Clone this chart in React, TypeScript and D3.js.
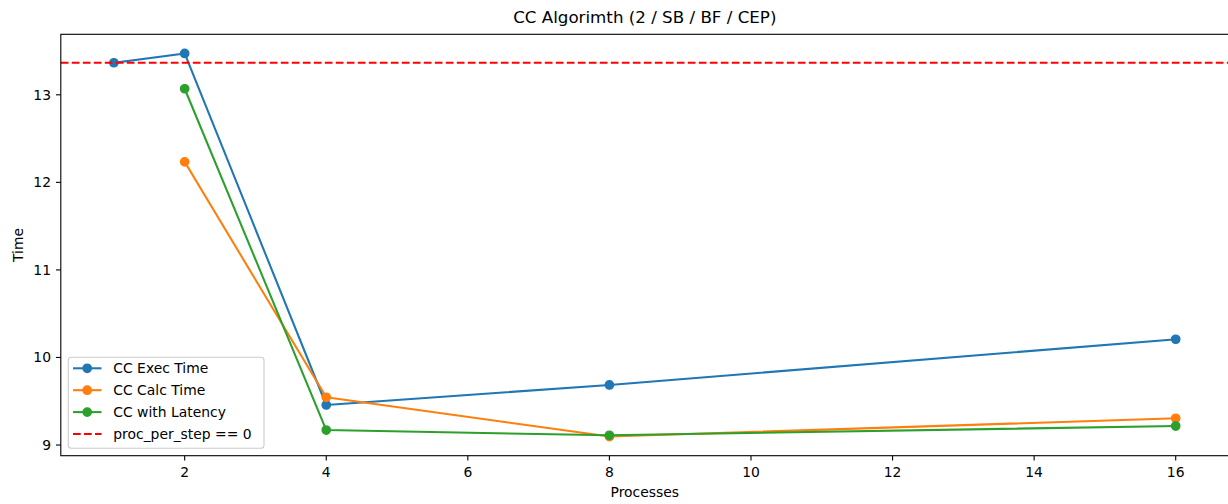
import React from "react";
import * as d3 from "d3";

const processes = [1, 2, 4, 8, 16];
const execTime = [13.366, 13.472, 9.457, 9.686, 10.208];
const calcProcesses = [2, 4, 8, 16];
const calcTime = [12.234, 9.545, 9.097, 9.305];
const latencyTime = [13.069, 9.171, 9.111, 9.217];
const baseline = 13.366;
const xTicks = [2, 4, 6, 8, 10, 12, 14, 16];
const yTicks = [9, 10, 11, 12, 13];

const W = 1228;
const H = 504;
const L = 60.8, R = 1228.8, T = 34.3, B = 455.7;
const FONT = "DejaVu Sans, sans-serif";

export default function App() {
  const x = d3.scaleLinear().domain([0.25, 16.75]).range([L, R]);
  const y = d3.scaleLinear().domain([8.878, 13.691]).range([B, T]);

  const series = [
    { name: "CC Exec Time", color: "#1f77b4", xs: processes, ys: execTime },
    { name: "CC Calc Time", color: "#ff7f0e", xs: calcProcesses, ys: calcTime },
    { name: "CC with Latency", color: "#2ca02c", xs: calcProcesses, ys: latencyTime },
  ];

  const line = d3
    .line<[number, number]>()
    .x((d) => x(d[0]))
    .y((d) => y(d[1]));

  const legendItems = [
    ...series.map((s) => ({ name: s.name, color: s.color, dashed: false })),
    { name: "proc_per_step == 0", color: "red", dashed: true },
  ];

  return (
    <svg
      width={W}
      height={H}
      style={{ position: "absolute", left: 0, top: 0, background: "#fff" }}
      fontFamily={FONT}
    >
      <rect x={0} y={0} width={W} height={H} fill="#fff" />
      <defs>
        <clipPath id="plot">
          <rect x={L} y={T} width={R - L} height={B - T} />
        </clipPath>
      </defs>

      {/* title */}
      <text x={(L + R) / 2} y={23} textAnchor="middle" fontSize={16.7} fill="#000">
        CC Algorimth (2 / SB / BF / CEP)
      </text>

      {/* series */}
      <g clipPath="url(#plot)">
        {series.map((s) => (
          <g key={s.name}>
            <path
              d={line(s.xs.map((v, i) => [v, s.ys[i]] as [number, number])) || ""}
              fill="none"
              stroke={s.color}
              strokeWidth={2.08}
              strokeLinejoin="round"
              strokeLinecap="square"
            />
            {s.xs.map((v, i) => (
              <circle
                key={i}
                cx={x(v)}
                cy={y(s.ys[i])}
                r={4.17}
                fill={s.color}
                stroke={s.color}
                strokeWidth={1.39}
              />
            ))}
          </g>
        ))}
        <line
          x1={L}
          x2={R}
          y1={y(baseline)}
          y2={y(baseline)}
          stroke="red"
          strokeWidth={2.08}
          strokeDasharray="7.7,3.3"
        />
      </g>

      {/* spines */}
      <rect x={L} y={T} width={R - L} height={B - T} fill="none" stroke="#000" strokeWidth={1.1} />

      {/* x ticks */}
      {xTicks.map((t) => (
        <g key={t}>
          <line x1={x(t)} x2={x(t)} y1={B} y2={B + 4.86} stroke="#000" strokeWidth={1.1} />
          <text x={x(t)} y={476.5} textAnchor="middle" fontSize={13.9} fill="#000">
            {t}
          </text>
        </g>
      ))}
      <text x={(L + R) / 2} y={497} textAnchor="middle" fontSize={13.9} fill="#000">
        Processes
      </text>

      {/* y ticks */}
      {yTicks.map((t) => (
        <g key={t}>
          <line x1={L - 4.86} x2={L} y1={y(t)} y2={y(t)} stroke="#000" strokeWidth={1.1} />
          <text x={51} y={y(t)} dy="0.35em" textAnchor="end" fontSize={13.9} fill="#000">
            {t}
          </text>
        </g>
      ))}
      <text
        transform={`translate(23, ${(T + B) / 2}) rotate(-90)`}
        textAnchor="middle"
        fontSize={13.9}
        fill="#000"
      >
        Time
      </text>

      {/* legend */}
      <rect
        x={68.3}
        y={357.3}
        width={195.7}
        height={91}
        rx={3}
        ry={3}
        fill="#fff"
        fillOpacity={0.8}
        stroke="#cccccc"
        strokeWidth={1.1}
      />
      {legendItems.map((it, i) => {
        const cy = 368.3 + i * 21.9;
        return (
          <g key={it.name}>
            <line
              x1={73}
              x2={101.5}
              y1={cy}
              y2={cy}
              stroke={it.color}
              strokeWidth={2.08}
              strokeDasharray={it.dashed ? "7.7,3.3" : undefined}
            />
            {!it.dashed && (
              <circle cx={87.2} cy={cy} r={4.17} fill={it.color} stroke={it.color} strokeWidth={1.39} />
            )}
            <text x={113.3} y={cy} dy="0.35em" fontSize={13.9} fill="#000">
              {it.name}
            </text>
          </g>
        );
      })}
    </svg>
  );
}
